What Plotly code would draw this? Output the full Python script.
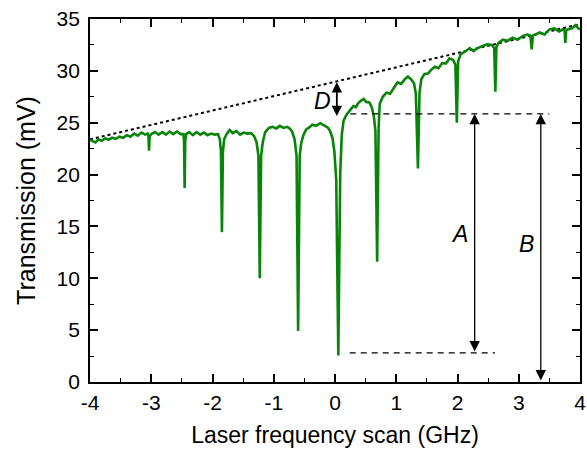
import plotly.graph_objects as go

# ---- data ----
freq = [-4.00, -3.95, -3.91, -3.86, -3.81, -3.75, -3.70, -3.64, -3.58, -3.52, -3.46, -3.40, -3.34, -3.28,
        -3.22, -3.16, -3.10, -3.06, -3.045, -3.036, -3.027, -3.00, -2.94, -2.88, -2.82, -2.76, -2.70,
        -2.64, -2.58, -2.52, -2.475, -2.465, -2.455, -2.445, -2.43, -2.38, -2.32, -2.26, -2.20, -2.14,
        -2.08, -2.02, -1.96, -1.91, -1.88, -1.862, -1.846, -1.830, -1.81, -1.77, -1.72, -1.67, -1.61,
        -1.55, -1.49, -1.43, -1.37, -1.32, -1.28, -1.25, -1.228, -1.206, -1.18, -1.14, -1.08, -1.02,
        -0.96, -0.90, -0.84, -0.78, -0.74, -0.70, -0.66, -0.628, -0.602, -0.576, -0.55, -0.51, -0.47,
        -0.42, -0.37, -0.31, -0.24, -0.18, -0.12, -0.08, -0.04, -0.01, 0.02, 0.054, 0.085, 0.11, 0.14,
        0.19, 0.25, 0.30, 0.34, 0.38, 0.43, 0.47, 0.51, 0.56, 0.60, 0.635, 0.66, 0.688, 0.712, 0.73,
        0.78, 0.84, 0.90, 0.96, 1.02, 1.08, 1.14, 1.19, 1.24, 1.29, 1.32, 1.354, 1.38, 1.41, 1.46,
        1.52, 1.57, 1.63, 1.69, 1.75, 1.81, 1.87, 1.93, 1.965, 1.989, 2.01, 2.05, 2.12, 2.20, 2.26,
        2.33, 2.41, 2.49, 2.56, 2.60, 2.618, 2.635, 2.67, 2.74, 2.82, 2.90, 2.98, 3.06, 3.14, 3.19,
        3.211, 3.23, 3.27, 3.34, 3.42, 3.50, 3.58, 3.66, 3.72, 3.748, 3.761, 3.774, 3.80, 3.87, 3.93,
        3.97, 4.00]
transmission = [23.35, 23.2, 23.1, 23.4, 23.25, 23.5, 23.35, 23.55, 23.45, 23.65, 23.55, 23.8, 23.65, 23.95,
                23.75, 24.05, 23.85, 23.95, 23.7, 22.3, 23.7, 23.9, 24.1, 23.85, 24.1, 23.85, 24.15,
                23.9, 24.15, 23.9, 23.9, 23.3, 18.7, 23.3, 23.9, 24.1, 23.8, 24.1, 23.85, 24.05,
                23.8, 23.95, 23.85, 23.9, 23.4, 22.2, 14.45, 22.2, 23.4, 23.9, 24.3, 24.0, 24.2,
                23.85, 24.05, 23.95, 24.0, 23.7, 23.1, 21.8, 10.0, 21.8, 23.1, 24.1, 24.5, 24.6,
                24.45, 24.7, 24.5, 24.6, 24.45, 24.15, 23.4, 21.8, 4.93, 21.8, 23.1, 23.9, 24.35,
                24.55, 24.8, 24.7, 24.95, 24.75, 24.55, 24.2, 23.5, 22.2, 19.5, 2.55, 20.0, 23.8, 25.2,
                25.8, 26.3, 26.6, 26.5, 26.9, 27.15, 27.3, 27.0, 26.95, 26.5, 25.6, 24.2, 11.6, 24.5, 26.8,
                27.5, 27.9, 27.8, 28.4, 28.9, 28.75, 29.2, 29.45, 29.2, 28.8, 27.8, 20.6, 27.9, 29.2, 29.7,
                29.75, 30.1, 30.4, 30.25, 30.75, 30.7, 31.2, 31.05, 30.6, 25.0, 30.9, 31.6, 31.85, 32.2, 31.9,
                32.2, 32.4, 32.55, 32.5, 32.2, 28.0, 32.3, 32.7, 33.0, 32.9, 33.2, 33.0, 33.35, 33.5, 33.4,
                32.06, 33.4, 33.5, 33.7, 33.5, 34.0, 34.1, 33.8, 34.0, 33.9, 32.7, 33.9, 34.0, 34.1, 34.4,
                34.1, 34.0]

envelope_x = [-4.0, 4.0]
envelope_y = [23.4, 34.5]

x_tickvals = [-4, -3, -2, -1, 0, 1, 2, 3, 4]
x_ticktext = ["-4", "-3", "-2", "-1", "0", "1", "2", "3", "4"]
y_tickvals = [0, 5, 10, 15, 20, 25, 30, 35]
y_ticktext = ["0", "5", "10", "15", "20", "25", "30", "35"]

# annotation levels
level_top = 25.85
level_bottom = 2.8
d_x, d_top, d_bottom = 0.03, 28.9, 25.5
a_x = 2.28
b_x = 3.36

FONT = "Liberation Sans, Arial, Helvetica, sans-serif"

fig = go.Figure()
fig.add_trace(go.Scatter(x=envelope_x, y=envelope_y, mode="lines",
                         line=dict(color="black", width=2, dash="3px,3px"),
                         hoverinfo="skip", showlegend=False))
fig.add_trace(go.Scatter(x=freq, y=transmission, mode="lines",
                         line=dict(color="#088508", width=2.6),
                         showlegend=False))

# dashed reference levels
fig.add_shape(type="line", xref="x", yref="y", x0=0.25, x1=3.5, y0=level_top, y1=level_top,
              line=dict(color="black", width=1.2, dash="6px,5px"))
fig.add_shape(type="line", xref="x", yref="y", x0=0.24, x1=2.61, y0=level_bottom, y1=level_bottom,
              line=dict(color="black", width=1.2, dash="6px,5px"))

def double_arrow(x, y0, y1, width, size):
    fig.add_annotation(x=x, y=y1, ax=x, ay=y0, xref="x", yref="y", axref="x", ayref="y",
                       text="", showarrow=True, arrowhead=2, arrowside="end+start",
                       arrowwidth=width, arrowsize=size, arrowcolor="black", standoff=0, startstandoff=0)

double_arrow(d_x, d_bottom, d_top, 1.8, 1.15)
double_arrow(a_x, level_bottom, level_top, 1.3, 1.6)
double_arrow(b_x, 0.0, level_top, 1.3, 1.6)

for txt, x, y in [("D", -0.2, 27.1), ("A", 2.03, 14.3), ("B", 3.13, 13.3)]:
    fig.add_annotation(x=x, y=y, xref="x", yref="y", text=f"<i>{txt}</i>", showarrow=False,
                       font=dict(family=FONT, size=23, color="black"))

axis_common = dict(showline=True, linecolor="black", linewidth=1.8, mirror="allticks",
                   ticks="inside", ticklen=8, tickwidth=1.5, tickcolor="black",
                   showgrid=False, zeroline=False,
                   tickfont=dict(family=FONT, size=21, color="black"))

fig.update_xaxes(range=[-4, 4], tickmode="array", tickvals=x_tickvals, ticktext=x_ticktext,
                 minor=dict(ticks="inside", ticklen=4, tickwidth=1.2, dtick=0.5, tick0=0, tickcolor="black"),
                 title=dict(text="Laser frequency scan (GHz)", font=dict(family=FONT, size=23, color="black"),
                            standoff=14),
                 ticklabelstandoff=1, automargin="height",
                 **axis_common)
fig.update_yaxes(range=[0, 35], tickmode="array", tickvals=y_tickvals, ticktext=y_ticktext,
                 minor=dict(ticks="inside", ticklen=4, tickwidth=1.2, dtick=2.5, tick0=0, tickcolor="black"),
                 title=dict(text="Transmission (mV)", font=dict(family=FONT, size=25, color="black"),
                            standoff=14),
                 ticklabelstandoff=4, automargin="width",
                 **axis_common)

fig.update_layout(width=587, height=454, margin=dict(l=90, r=5, t=19, b=72),
                  plot_bgcolor="white", paper_bgcolor="white", showlegend=False)

fig.write_html("out.html")
